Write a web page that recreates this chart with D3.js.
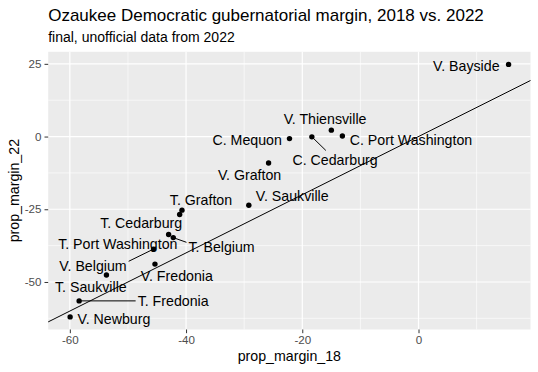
<!DOCTYPE html>
<html>
<head>
<meta charset="utf-8">
<script src="https://cdn.jsdelivr.net/npm/d3@7"></script>
<style>
  html, body { margin: 0; padding: 0; background: #ffffff; }
  svg { display: block; }
  text { font-family: "Liberation Sans", Arial, Helvetica, sans-serif; }
</style>
</head>
<body>
<svg id="chart" width="538" height="372"></svg>
<script>
// ---- data ----
const municipalities = [
  "V. Bayside", "V. Thiensville", "C. Mequon", "C. Cedarburg", "C. Port Washington",
  "V. Grafton", "V. Saukville", "T. Grafton", "T. Cedarburg", "T. Port Washington",
  "T. Belgium", "V. Belgium", "V. Fredonia", "T. Saukville", "T. Fredonia", "V. Newburg"
];
const propMargin18 = [15.5, -15.0, -22.2, -18.35, -13.1, -25.8, -29.2, -40.7, -41.1, -43.0,
  -42.2, -45.6, -45.35, -53.7, -58.4, -59.95];
const propMargin22 = [24.8, 2.2, -0.7, -0.1, 0.2, -9.1, -23.6, -25.3, -26.8, -33.7,
  -34.75, -38.7, -43.85, -47.6, -56.5, -62.0];
const xTicks = [-60, -40, -20, 0];
const yTicks = [-50, -25, 0, 25];
const xMinorTicks = [-50, -30, -10, 10];
const yMinorTicks = [-62.5, -37.5, -12.5, 12.5];
const titleText = "Ozaukee Democratic gubernatorial margin, 2018 vs. 2022";
const subtitleText = "final, unofficial data from 2022";
const xTitle = "prop_margin_18";
const yTitle = "prop_margin_22";

// ---- layout (repelled label placement, pixel offsets from each point) ----
const labelDx = [-42.3, -6.3, -42.3, 23.2, 68.6, -19, 43.4, 19, -38.5, -50.8, 48.3, -60.5, 21.9, -15.6, 94, 43.8];
const labelDy = [1, -11, 1, 22.6, 3.6, 12.3, -9.3, -10, 8.7, 9.7, 9.2, 16.7, 12, 12.3, 0, 2.5];

const W = 538, H = 372;
const panel = { left: 48.2, right: 530.5, top: 51.8, bottom: 329.5 };
const labelSize = 14.2;

const svg = d3.select("#chart");

function expand(ext) {
  const w = ext[1] - ext[0];
  return [ext[0] - 0.05 * w, ext[1] + 0.05 * w];
}
const x = d3.scaleLinear().domain(expand(d3.extent(propMargin18))).range([panel.left, panel.right]);
const y = d3.scaleLinear().domain(expand(d3.extent(propMargin22))).range([panel.bottom, panel.top]);

// panel background
svg.append("rect")
  .attr("x", panel.left).attr("y", panel.top)
  .attr("width", panel.right - panel.left).attr("height", panel.bottom - panel.top)
  .attr("fill", "#EBEBEB");

const grid = svg.append("g");
grid.selectAll(".xminor").data(xMinorTicks).join("line")
  .attr("x1", d => x(d)).attr("x2", d => x(d))
  .attr("y1", panel.top).attr("y2", panel.bottom)
  .attr("stroke", "#fff").attr("stroke-width", 0.6);
grid.selectAll(".yminor").data(yMinorTicks).join("line")
  .attr("y1", d => y(d)).attr("y2", d => y(d))
  .attr("x1", panel.left).attr("x2", panel.right)
  .attr("stroke", "#fff").attr("stroke-width", 0.6);
grid.selectAll(".xmajor").data(xTicks).join("line")
  .attr("x1", d => x(d)).attr("x2", d => x(d))
  .attr("y1", panel.top).attr("y2", panel.bottom)
  .attr("stroke", "#fff").attr("stroke-width", 1.2);
grid.selectAll(".ymajor").data(yTicks).join("line")
  .attr("y1", d => y(d)).attr("y2", d => y(d))
  .attr("x1", panel.left).attr("x2", panel.right)
  .attr("stroke", "#fff").attr("stroke-width", 1.2);

svg.append("clipPath").attr("id", "pclip").append("rect")
  .attr("x", panel.left).attr("y", panel.top)
  .attr("width", panel.right - panel.left).attr("height", panel.bottom - panel.top);

// y = x reference line
const xd = x.domain();
svg.append("line")
  .attr("clip-path", "url(#pclip)")
  .attr("x1", x(xd[0] - 10)).attr("y1", y(xd[0] - 10))
  .attr("x2", x(xd[1] + 10)).attr("y2", y(xd[1] + 10))
  .attr("stroke", "#000").attr("stroke-width", 1);

// axes
const xAxis = d3.axisBottom(x).tickValues(xTicks).tickSize(3.7).tickPadding(3).tickFormat(d3.format("d"));
const yAxis = d3.axisLeft(y).tickValues(yTicks).tickSize(3.7).tickPadding(3).tickFormat(d3.format("d"));
const gx = svg.append("g").attr("transform", `translate(0,${panel.bottom})`).call(xAxis);
const gy = svg.append("g").attr("transform", `translate(${panel.left},0)`).call(yAxis);
[gx, gy].forEach(g => {
  g.select(".domain").remove();
  g.selectAll(".tick line").attr("stroke", "#333333").attr("stroke-width", 1);
  g.selectAll(".tick text").attr("fill", "#4D4D4D").style("font-size", "11.6px")
    .style("font-family", "'Liberation Sans', Arial, Helvetica, sans-serif");
});
gx.selectAll(".tick text").text(d => d < 0 ? "-" + Math.abs(d) : d);
gy.selectAll(".tick text").text(d => d < 0 ? "-" + Math.abs(d) : d);

const pts = municipalities.map((m, i) => ({
  name: m, px: x(propMargin18[i]), py: y(propMargin22[i]),
  cx: x(propMargin18[i]) + labelDx[i], cy: y(propMargin22[i]) + labelDy[i]
}));

// labels
const labels = svg.append("g");
const textSel = labels.selectAll("text").data(pts).join("text")
  .attr("x", d => d.cx).attr("y", d => d.cy + 5.1)
  .attr("text-anchor", "middle")
  .style("font-size", labelSize + "px")
  .attr("fill", "#000")
  .text(d => d.name);

// connector segments
const segs = [];
textSel.each(function(d) {
  const w = this.getComputedTextLength();
  const pad = 2;
  const b = { x0: d.cx - w / 2 - pad, x1: d.cx + w / 2 + pad, y0: d.cy - 7 - pad, y1: d.cy + 7 + pad };
  const dxp = Math.max(b.x0 - d.px, 0, d.px - b.x1);
  const dyp = Math.max(b.y0 - d.py, 0, d.py - b.y1);
  if (Math.hypot(dxp, dyp) < 10) return;
  let ex, ey;
  if (d.px < b.x0 || d.px > b.x1) {
    ex = d.px < b.x0 ? b.x0 : b.x1;
    const cyClamp = Math.min(Math.max(d.py, b.y0), b.y1);
    ey = (cyClamp + d.cy) / 2;
  } else {
    ey = d.py < b.y0 ? b.y0 : b.y1;
    const t = (ey - d.py) / (d.cy - d.py);
    ex = d.px + t * (d.cx - d.px);
  }
  segs.push({ x1: d.px, y1: d.py, x2: ex, y2: ey });
});
svg.insert("g", () => labels.node()).selectAll("line").data(segs).join("line")
  .attr("x1", d => d.x1).attr("y1", d => d.y1)
  .attr("x2", d => d.x2).attr("y2", d => d.y2)
  .attr("stroke", "#000").attr("stroke-width", 1);

// points
svg.append("g").selectAll("circle").data(pts).join("circle")
  .attr("cx", d => d.px).attr("cy", d => d.py).attr("r", 2.7)
  .attr("fill", "#000");

// titles
svg.append("text").attr("x", panel.left).attr("y", 20.5)
  .style("font-size", "17px").attr("fill", "#000").text(titleText);
svg.append("text").attr("x", panel.left).attr("y", 42)
  .style("font-size", "14px").attr("fill", "#000").text(subtitleText);
svg.append("text").attr("x", (panel.left + panel.right) / 2).attr("y", 361)
  .attr("text-anchor", "middle").style("font-size", "14.2px").attr("fill", "#000").text(xTitle);
svg.append("text")
  .attr("transform", `translate(19,${(panel.top + panel.bottom) / 2}) rotate(-90)`)
  .attr("text-anchor", "middle").style("font-size", "14.2px").attr("fill", "#000").text(yTitle);
</script>
</body>
</html>
